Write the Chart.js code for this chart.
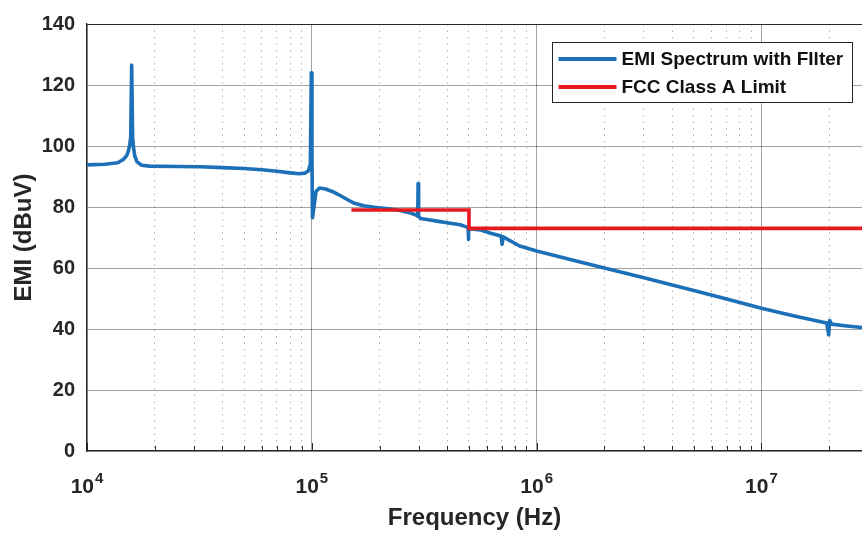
<!DOCTYPE html>
<html>
<head>
<meta charset="utf-8">
<script src="https://cdn.jsdelivr.net/npm/chart.js@4.4.1/dist/chart.umd.min.js"></script>
<style>
html,body{margin:0;padding:0;background:#fff;overflow:hidden}
#wrap{width:862px;height:538px;position:relative}
</style>
</head>
<body>
<div id="wrap"><canvas id="c" width="862" height="538"></canvas></div>
<script>
// ---- data ----
const emiFreq = [
  1.00e4, 1.20e4, 1.37e4, 1.45e4, 1.50e4, 1.53e4, 1.55e4, 1.565e4, 1.58e4, 1.595e4,
  1.61e4, 1.63e4, 1.67e4, 1.75e4, 1.9e4, 2.5e4, 3.2e4, 4.0e4, 5.0e4, 6.0e4,
  7.0e4, 8.0e4, 8.8e4, 9.3e4, 9.65e4, 9.85e4, 9.95e4, 1.001e5, 1.0064e5, 1.022e5,
  1.043e5, 1.08e5, 1.15e5, 1.25e5, 1.35e5, 1.45e5, 1.55e5, 1.7e5, 1.9e5, 2.2e5,
  2.5e5, 2.75e5, 2.93e5, 2.96e5, 2.97e5, 2.985e5, 3.05e5, 3.3e5, 3.72e5, 4.2e5,
  4.57e5, 4.9e5, 4.96e5, 4.97e5, 4.99e5, 5.6e5, 6.3e5, 6.95e5, 7.02e5, 7.1e5,
  8.4e5, 1e6, 1.5e6, 2e6, 3e6, 5e6, 7e6, 1e7, 1.4e7, 1.95e7,
  1.99e7, 2.01e7, 2.05e7, 2.4e7, 2.8e7
];
const emiLevel = [
  93.8, 94.0, 94.5, 95.6, 96.8, 98.5, 100.5, 103, 126.5, 103,
  99.5, 96.8, 94.8, 93.7, 93.4, 93.3, 93.2, 92.9, 92.6, 92.2,
  91.7, 91.2, 90.9, 91.1, 91.8, 94, 124, 100, 76.5, 80,
  85, 86.2, 85.9, 84.9, 83.6, 82.3, 81.2, 80.4, 79.9, 79.4,
  78.8, 78.0, 77.3, 77.0, 87.7, 77.0, 76.2, 75.8, 75.2, 74.6,
  74.2, 73.4, 73.2, 69.4, 73.0, 72.5, 71.3, 70.5, 67.8, 70.2,
  67.2, 65.6, 62.3, 60.0, 56.8, 52.6, 49.8, 46.8, 44.3, 42.0,
  38.1, 42.8, 41.6, 41.0, 40.5
];
const limitFreq = [1.5e5, 5e5, 5e5, 3e7];
const limitLevel = [79, 79, 73, 73];
const seriesNames = ['EMI Spectrum with FIlter', 'FCC Class A Limit'];
const yTicks = [0, 20, 40, 60, 80, 100, 120, 140];
const xMajorTicks = [1e4, 1e5, 1e6, 1e7];
const xMinorTicks = [
  2e4, 3e4, 4e4, 5e4, 6e4, 7e4, 8e4, 9e4,
  2e5, 3e5, 4e5, 5e5, 6e5, 7e5, 8e5, 9e5,
  2e6, 3e6, 4e6, 5e6, 6e6, 7e6, 8e6, 9e6,
  2e7
];
const xMin = 1e4, xMax = 2.8e7;

// ---- styles ----
const FONT = '"Liberation Sans", Arial, Helvetica, sans-serif';
const TXT = '#262626';
const BLUE = '#1c70b8';
const RED = '#e6191e';
Chart.defaults.font.family = FONT;
Chart.defaults.color = TXT;

const emiPoints = emiFreq.map((f, i) => ({x: f, y: emiLevel[i]}));
const limitPoints = limitFreq.map((f, i) => ({x: f, y: limitLevel[i]}));

const decor = {
  id: 'decor',
  afterDraw(chart) {
    const {ctx, chartArea: ca, scales} = chart;
    const xs = scales.x;
    ctx.save();
    // inward tick marks on the bottom axis
    ctx.strokeStyle = TXT;
    ctx.lineWidth = 1;
    ctx.beginPath();
    xMajorTicks.forEach(v => {
      const px = Math.round(xs.getPixelForValue(v)) + 0.5;
      ctx.moveTo(px, ca.bottom); ctx.lineTo(px, ca.bottom - 8);
    });
    xMinorTicks.forEach(v => {
      const px = Math.round(xs.getPixelForValue(v)) + 0.5;
      ctx.moveTo(px, ca.bottom); ctx.lineTo(px, ca.bottom - 5);
    });
    ctx.stroke();
    // x tick labels 10^n
    ctx.fillStyle = TXT;
    ctx.textBaseline = 'alphabetic';
    ctx.textAlign = 'left';
    xMajorTicks.forEach(v => {
      const exp = String(Math.round(Math.log10(v)));
      ctx.font = 'bold 21px ' + FONT;
      const w1 = ctx.measureText('10').width;
      ctx.font = 'bold 15px ' + FONT;
      const w2 = ctx.measureText(exp).width;
      const px = xs.getPixelForValue(v);
      const x0 = px - (w1 + w2 + 1) / 2;
      ctx.font = 'bold 21px ' + FONT;
      ctx.fillText('10', x0, ca.bottom + 42);
      ctx.font = 'bold 15px ' + FONT;
      ctx.fillText(exp, x0 + w1 + 1, ca.bottom + 32);
    });
    // legend box
    const bx = ca.right - 309.5, by = ca.top + 18.5, bw = 300, bh = 60;
    ctx.fillStyle = '#ffffff';
    ctx.fillRect(bx, by, bw, bh);
    ctx.strokeStyle = TXT;
    ctx.lineWidth = 1;
    ctx.strokeRect(bx, by, bw, bh);
    const rows = [[seriesNames[0], BLUE, by + 16.5], [seriesNames[1], RED, by + 44.5]];
    ctx.font = 'bold 19px ' + FONT;
    ctx.textBaseline = 'middle';
    rows.forEach(([label, col, yy]) => {
      ctx.strokeStyle = col;
      ctx.lineWidth = 4;
      ctx.beginPath();
      ctx.moveTo(bx + 6, yy); ctx.lineTo(bx + 64, yy);
      ctx.stroke();
      ctx.fillStyle = '#111';
      ctx.fillText(label, bx + 69, yy + 1);
    });
    ctx.restore();
  }
};

new Chart(document.getElementById('c'), {
  type: 'line',
  data: {
    datasets: [
      {
        label: seriesNames[0],
        data: emiPoints,
        borderColor: BLUE,
        backgroundColor: BLUE,
        borderWidth: 3.6,
        pointRadius: 0,
        tension: 0,
        borderJoinStyle: 'round',
        xAxisID: 'x', yAxisID: 'y',
        order: 1
      },
      {
        label: seriesNames[1],
        data: limitPoints,
        borderColor: RED,
        backgroundColor: RED,
        borderWidth: 3.6,
        pointRadius: 0,
        tension: 0,
        xAxisID: 'x', yAxisID: 'y',
        order: 0
      }
    ]
  },
  options: {
    responsive: false,
    animation: false,
    devicePixelRatio: 1,
    layout: {padding: {top: 14, right: 0, bottom: 0, left: 0}},
    plugins: {legend: {display: false}, tooltip: {enabled: false}},
    scales: {
      x: {
        type: 'logarithmic',
        position: 'bottom',
        min: xMin, max: xMax,
        bounds: 'data',
        afterBuildTicks: s => { s.ticks = xMajorTicks.map(v => ({value: v, major: true})); },
        ticks: {display: false},
        grid: {color: 'rgba(0,0,0,0.36)', lineWidth: 1, drawTicks: false},
        border: {display: true, color: TXT, width: 1.3},
        title: {
          display: true, text: 'Frequency (Hz)', color: TXT,
          font: {size: 24, weight: 'bold'}, padding: {top: 0, bottom: 5}
        },
        afterFit: s => { s.height = 87; }
      },
      xMinor: {
        type: 'logarithmic',
        position: 'bottom',
        min: xMin, max: xMax,
        bounds: 'data',
        afterBuildTicks: s => { s.ticks = xMinorTicks.map(v => ({value: v})); },
        ticks: {display: false},
        grid: {color: 'rgba(0,0,0,0.3)', lineWidth: 1, drawTicks: false},
        border: {display: false, dash: [1.5, 5]},
        afterFit: s => { s.height = 0; }
      },
      y: {
        type: 'linear',
        position: 'left',
        min: 0, max: 140,
        afterBuildTicks: s => { s.ticks = yTicks.map(v => ({value: v})); },
        ticks: {font: {size: 20, weight: 'bold'}, color: TXT, padding: 12},
        grid: {
          color: c => (c.tick && c.tick.value === 140) ? TXT : 'rgba(0,0,0,0.36)',
          lineWidth: 1, drawTicks: false
        },
        border: {display: true, color: TXT, width: 1.3},
        title: {
          display: true, text: 'EMI (dBuV)', color: TXT,
          font: {size: 24, weight: 'bold'}, padding: {top: 10, bottom: 0}
        },
        afterFit: s => { s.width = 87; }
      }
    }
  },
  plugins: [decor]
});
</script>
</body>
</html>
